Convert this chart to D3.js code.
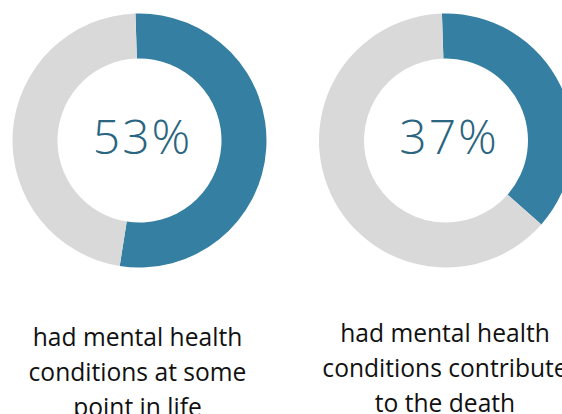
<!DOCTYPE html>
<html lang="en">
<head>
<meta charset="utf-8">
<title>Mental health donuts</title>
<script src="https://cdn.jsdelivr.net/npm/d3@7"></script>
<style>
  body { margin: 0; background: #fff; overflow: hidden; }
  svg { display: block; }
  .big { font-family: 'Open Sans', sans-serif; font-weight: 300; fill: #2b6580; }
  .label { font-family: 'Open Sans', sans-serif; fill: #111; }
</style>
</head>
<body>
<svg width="562" height="414"></svg>
<script>
// percentages shown in each donut
var percents = [53, 37];
// caption lines under each donut
var captions = [
  ["had mental health", "conditions at some", "point in life"],
  ["had mental health", "conditions contribute", "to the death"]
];

var colors = ["#357fa2", "#d9d9d9"];

var svg = d3.select("svg");

var centersX = [139.5, 446],
    centerY = 140.5,
    labelX = [137.5, 445],
    labelY = [346, 342];

var pie = d3.pie()
    .sort(null)
    .value(function(d) { return d; })
    .startAngle(-0.032)
    .endAngle(2 * Math.PI - 0.032);

var arc = d3.arc()
    .innerRadius(82)
    .outerRadius(127);

percents.forEach(function(p, i) {
  var g = svg.append("g")
      .attr("transform", "translate(" + centersX[i] + "," + centerY + ")");

  g.selectAll("path")
    .data(pie([p, 100 - p]))
    .enter()
    .append("path")
    .attr("d", arc)
    .attr("fill", function(d, j) { return colors[j]; });

  g.append("text")
    .attr("class", "big")
    .attr("text-anchor", "middle")
    .attr("x", 3)
    .attr("y", 13)
    .attr("font-size", 48)
    .attr("letter-spacing", 2)
    .text(p + "%");

  var t = svg.append("text")
    .attr("class", "label")
    .attr("text-anchor", "middle")
    .attr("font-size", 24.6);
  captions[i].forEach(function(line, k) {
    t.append("tspan")
      .attr("x", labelX[i])
      .attr("y", labelY[i] + k * 35)
      .text(line);
  });
});
</script>
</body>
</html>
